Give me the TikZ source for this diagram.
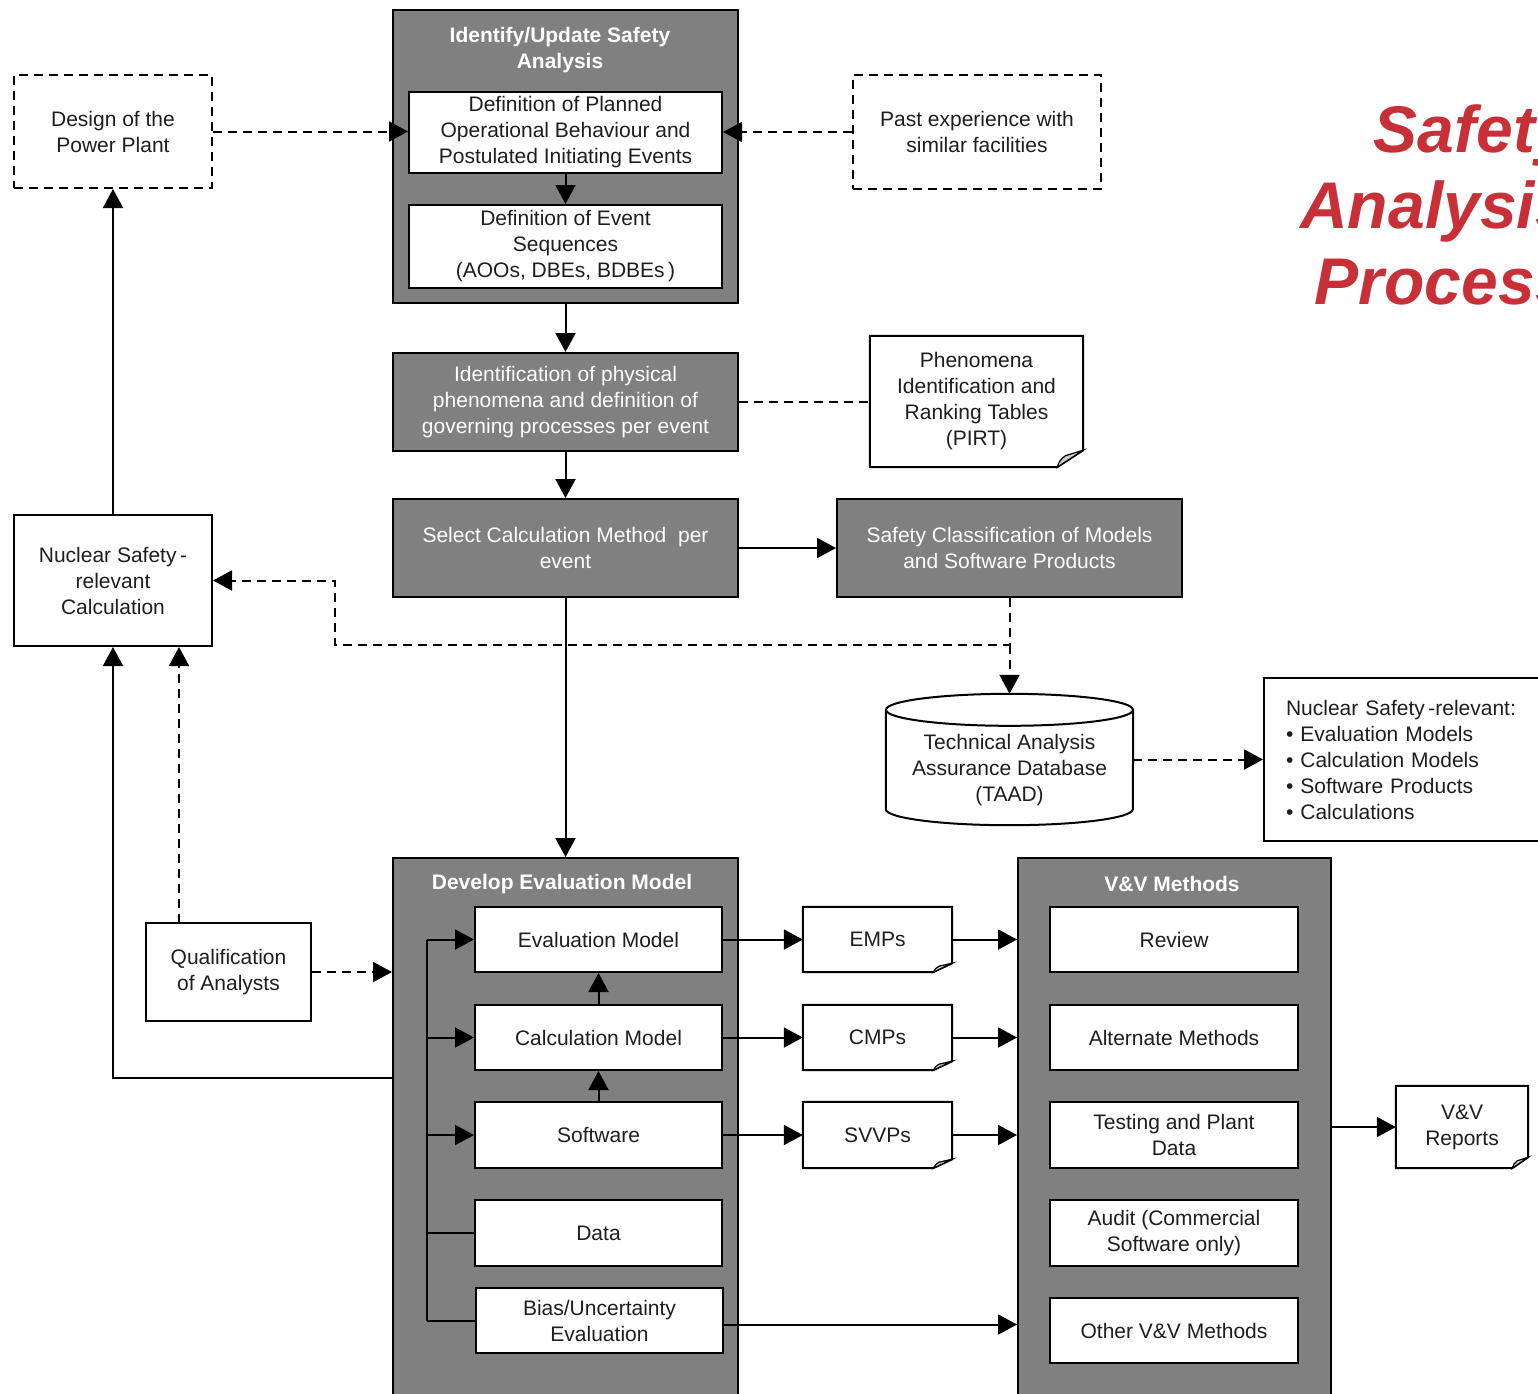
\documentclass[tikz,border=0pt]{standalone}
\usepackage{fontspec}
\setmainfont{Liberation Sans}
\usetikzlibrary{arrows.meta}
\definecolor{boxgrey}{RGB}{128,128,128}
\definecolor{titlered}{RGB}{200,48,56}
\definecolor{ink}{RGB}{30,30,30}

\tikzset{
  lw/.style={line width=2pt},
  txt/.style={inner sep=0pt, align=center, font=\fontsize{21}{26}\selectfont, text=ink},
  whitebox/.style={txt, draw, lw, fill=white},
  greybox/.style={txt, draw, lw, fill=boxgrey, text=white},
  dashbox/.style={txt, draw, lw, dash pattern=on 9pt off 6pt},
  heading/.style={txt, text=white, font=\fontsize{21}{26}\selectfont\bfseries},
  bigtitle/.style={anchor=base east, inner sep=0pt, text=titlered,
    font=\fontsize{66}{76}\selectfont\bfseries\itshape},
  conn/.style={lw, -{Triangle[length=19pt,width=20pt]}},
  dconn/.style={conn, dash pattern=on 9pt off 6pt},
  link/.style={lw},
  dlink/.style={lw, dash pattern=on 9pt off 6pt},
  sz/.style 2 args={minimum width=#1pt, minimum height=#2pt},
}

% page outline with a folded bottom-right corner around a named node
\newcommand\pageframe[3]{%
  \draw[lw] (#1.north west) -- (#1.north east) -- ([yshift=#3pt]#1.south east)
    -- ([xshift=-#2pt]#1.south east) -- (#1.south west) -- cycle;
  \draw[line width=1.2pt, fill=gray!40] ([yshift=#3pt]#1.south east)
    -- ([xshift=-0.68*#2pt, yshift=0.68*#3pt]#1.south east)
    to[bend right=20] ([xshift=-#2pt]#1.south east) -- cycle;}

\begin{document}
\begin{tikzpicture}[x=1pt, y=-1pt]
\useasboundingbox (0,0) rectangle (1538,1393);
\fill[white] (0,0) rectangle (1538,1393);
\clip (0,0) rectangle (1538,1393);

% ---- title
\node[bigtitle] (title1) at (1572,152) {Safety};
\node[bigtitle] (title2) at (1572,228) {Analysis};
\node[bigtitle] (title3) at (1572,304) {Process};

% ---- top block
\node[dashbox, sz={198}{113}] (design) at (113,131.5) {Design of the\\Power Plant};
\node[dashbox, sz={248}{114}] (past) at (977,132) {Past experience with\\similar facilities};

\node[greybox, sz={345}{293}] (idbox) at (565.5,156.5) {};
\node[heading] (idtitle) at (560,50) {Identify/Update Safety\\Analysis};
\node[whitebox, sz={313}{81}] (def1) at (565.5,132.5)
  {Definition of Planned\\Operational Behaviour and\\Postulated Initiating Events};
\node[whitebox, sz={313}{83}] (def2) at (565.5,246.5)
  {Definition of Event\\Sequences\\(AOOs, DBEs, BDBEs\,)};

\node[greybox, sz={345}{98}] (phen) at (565.5,402)
  {Identification of physical\\phenomena and definition of\\governing processes per event};
\node[txt, sz={213}{131}] (pirt) at (976.5,401.5)
  {Phenomena\\Identification and\\Ranking Tables\\(PIRT)};
\pageframe{pirt}{26}{17}

\node[greybox, sz={345}{98}] (select) at (565.5,548) {Select Calculation Method\ \ per\\event};
\node[greybox, sz={345}{98}] (safety) at (1009.5,548)
  {Safety Classification of Models\\and Software Products};

% ---- database
\node[txt, sz={247}{131}] (taad) at (1009.5,759.5) {};
\draw[lw] ([yshift=-16pt]taad.north west) -- ([yshift=16pt]taad.south west)
  arc[start angle=180, end angle=360, x radius=123.5pt, y radius=16pt]
  -- ([yshift=-16pt]taad.north east);
\draw[lw] ([yshift=-16pt]taad.north) ellipse [x radius=123.5pt, y radius=16pt];
\node[txt] (taadtext) at (1009.5,770) {Technical Analysis\\Assurance Database\\(TAAD)};

\node[txt, draw, lw, sz={296}{163}, text width=252pt, inner xsep=22pt, align=left] (list) at (1412,759.5)
  {Nuclear Safety\,-relevant:\\\textbullet\ Evaluation Models\\\textbullet\ Calculation Models\\%
   \textbullet\ Software Products\\\textbullet\ Calculations};

% ---- left side
\node[whitebox, sz={198}{131}] (nuclear) at (113,580.5) {Nuclear Safety\,-\\relevant\\Calculation};
\node[whitebox, sz={165}{98}] (qual) at (228.5,972) {Qualification\\of Analysts};

% ---- evaluation model block
\node[greybox, sz={345}{552}] (dev) at (565.5,1134) {};
\node[heading] (devtitle) at (562,884) {Develop Evaluation Model};
\node[whitebox, sz={247}{65}] (em) at (598.5,939.5) {Evaluation Model};
\node[whitebox, sz={247}{65}] (calc) at (598.5,1037.5) {Calculation Model};
\node[whitebox, sz={247}{66}] (sw) at (598.5,1135) {Software};
\node[whitebox, sz={247}{66}] (data) at (598.5,1233) {Data};
\node[whitebox, sz={247}{65}] (bias) at (599.5,1320.5) {Bias/Uncertainty\\Evaluation};

% ---- plans
\node[txt, sz={149}{65}] (emps) at (877.5,939.5) {EMPs};
\node[txt, sz={149}{65}] (cmps) at (877.5,1037.5) {CMPs};
\node[txt, sz={149}{66}] (svvps) at (877.5,1135) {SVVPs};
\pageframe{emps}{19}{9}
\pageframe{cmps}{19}{9}
\pageframe{svvps}{19}{9}

% ---- V&V block
\node[greybox, sz={313}{552}] (vv) at (1174.5,1134) {};
\node[heading] (vvtitle) at (1172,884) {V\&V Methods};
\node[whitebox, sz={248}{65}] (review) at (1174,939.5) {Review};
\node[whitebox, sz={248}{65}] (alt) at (1174,1037.5) {Alternate Methods};
\node[whitebox, sz={248}{66}] (test) at (1174,1135) {Testing and Plant\\Data};
\node[whitebox, sz={248}{66}] (audit) at (1174,1233) {Audit (Commercial\\Software only)};
\node[whitebox, sz={248}{65}] (other) at (1174,1330.5) {Other V\&V Methods};

\node[txt, sz={132}{82}] (reports) at (1462,1127) {V\&V\\Reports};
\pageframe{reports}{16}{11}

% ---- connectors, top part
\draw[dconn] (design.east) -- (design.east -| def1.west);
\draw[dconn] (past.west) -- (past.west -| def1.east);
\draw[conn] (def1.south) -- (def2.north);
\draw[conn] (idbox.south) -- (phen.north);
\draw[dlink] (phen.east) -- (phen.east -| pirt.west);
\draw[conn] (phen.south) -- (select.north);
\draw[conn] (select.east) -- (select.east -| safety.west);

\coordinate (junc) at (1009.5,645);
\coordinate (dleft) at (335,645);
\draw[dconn] (safety.south) -- (junc) -- (dleft) |- (nuclear.east);
\draw[dconn] (junc) -- (taad.north);
\draw[dconn] (taad.east) -- (taad.east -| list.west);

% ---- connectors, left side
\draw[conn] (nuclear.north) -- (design.south);
\coordinate (devout) at (393,1078);
\draw[conn] (devout) -| (nuclear.south);
\coordinate (qtop) at (179,923);
\draw[dconn] (qtop) -- (qtop |- nuclear.south);
\draw[dconn] (qual.east) -- (qual.east -| dev.west);
\draw[conn] (select.south) -- (dev.north);

% ---- connectors inside the evaluation model block
\coordinate (bustop) at (427,939.5);
\coordinate (busbot) at (427,1320.5);
\draw[link] (bustop) -- (busbot);
\draw[conn] (bustop) -- (em.west);
\draw[conn] (calc.west -| bustop) -- (calc.west);
\draw[conn] (sw.west -| bustop) -- (sw.west);
\draw[link] (data.west -| bustop) -- (data.west);
\draw[link] (busbot) -- (bias.west);
\draw[conn] (calc.north) -- (em.south);
\draw[conn] (sw.north) -- (calc.south);

% ---- connectors to plans and V&V
\draw[conn] (em.east) -- (emps.west);
\draw[conn] (calc.east) -- (cmps.west);
\draw[conn] (sw.east) -- (svvps.west);
\draw[conn] (emps.east) -- (emps.east -| vv.west);
\draw[conn] (cmps.east) -- (cmps.east -| vv.west);
\draw[conn] (svvps.east) -- (svvps.east -| vv.west);
\draw[conn] ([yshift=-4pt]bias.east) -- ([yshift=-4pt]bias.east -| vv.west);
\draw[conn] (reports.west -| vv.east) -- (reports.west);
\end{tikzpicture}
\end{document}
